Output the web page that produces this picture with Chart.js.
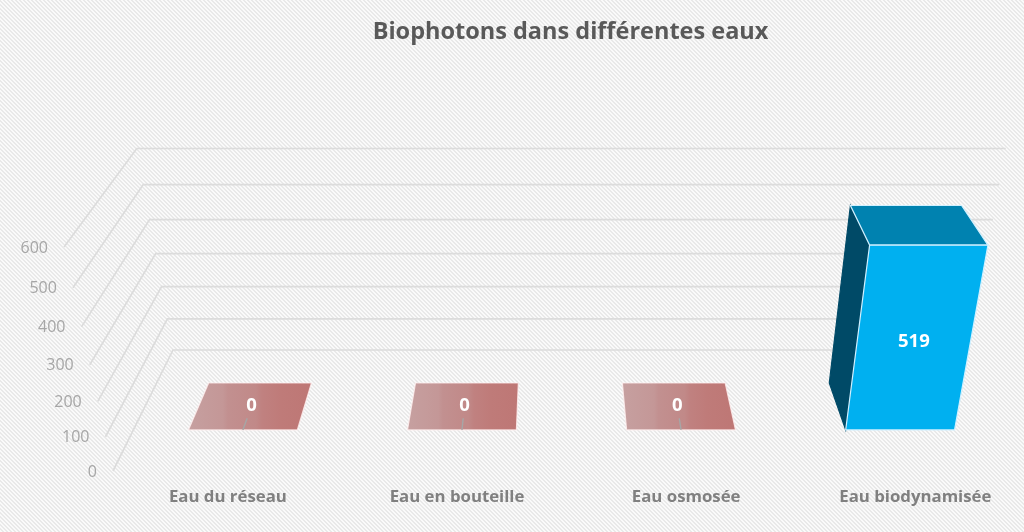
<!DOCTYPE html>
<html lang="fr">
<head>
<meta charset="utf-8">
<title>Biophotons dans différentes eaux</title>
<script src="https://cdn.jsdelivr.net/npm/chart.js@4"></script>
<style>
    html, body {
        margin: 0;
        padding: 0;
        width: 1024px;
        height: 532px;
        overflow: hidden;
    }
    body {
        background-color: #f4f4f4;
        background-image: linear-gradient(45deg, #fafafa 25%, #e9e9e9 25%, #e9e9e9 50%, #fafafa 50%, #fafafa 75%, #e9e9e9 75%);
        background-size: 4px 4px;
    }
    .chart-box {
        position: relative;
        width: 1024px;
        height: 532px;
    }
</style>
</head>
<body>
<div class="chart-box"><canvas id="water-chart"></canvas></div>
<script>
const categories = ['Eau du réseau', 'Eau en bouteille', 'Eau osmosée', 'Eau biodynamisée'];
const photons = [0, 0, 0, 519];
const yTicks = [0, 100, 200, 300, 400, 500, 600];

const FONT = '"Open Sans", sans-serif';

// vanishing points and foreshortening
const VP_UP = { x: 570, y: 2560, k: -0.0968 };
const VP_BACK = { x: 551, y: -413, k: 0.1586 };
const FLOOR_FRONT = { left: 113, right: 1032, y: 471 };

const BAR_FRONT = 0.307;
const BAR_BACK = 0.697;
const WALL_END = 1.004;

// u: 0-1 across, v: 0-1 up, d: 0 front floor edge, 1 back wall
function project(u, v, d) {
    const w = 1 + VP_UP.k * v + VP_BACK.k * d;
    const x0 = FLOOR_FRONT.left + (FLOOR_FRONT.right - FLOOR_FRONT.left) * u;
    return {
        x: (x0 + VP_UP.x * VP_UP.k * v + VP_BACK.x * VP_BACK.k * d) / w,
        y: (FLOOR_FRONT.y + VP_UP.y * VP_UP.k * v + VP_BACK.y * VP_BACK.k * d) / w
    };
}

function polygon(ctx, pts, fill, stroke) {
    ctx.beginPath();
    pts.forEach((p, i) => i ? ctx.lineTo(p.x, p.y) : ctx.moveTo(p.x, p.y));
    ctx.closePath();
    ctx.fillStyle = fill;
    ctx.fill();
    ctx.strokeStyle = stroke;
    ctx.lineWidth = 1.2;
    ctx.stroke();
}

function emptyBarFill(ctx, x1, x2) {
    const g = ctx.createLinearGradient(x1, 0, x2, 0);
    g.addColorStop(0, '#c6a0a0');
    g.addColorStop(0.28, '#c49797');
    g.addColorStop(0.32, '#c29090');
    g.addColorStop(0.55, '#c18988');
    g.addColorStop(0.6, '#c08180');
    g.addColorStop(0.75, '#bf7b79');
    g.addColorStop(1, '#be7775');
    return g;
}

const wallsAndBars = {
    id: 'wallsAndBars',
    afterDatasetsDraw(chart) {
        const { ctx, chartArea: area, scales } = chart;
        const uOf = px => (px - area.left) / (area.right - area.left);
        const vOf = value => (area.bottom - scales.y.getPixelForValue(value)) / (area.bottom - area.top);

        ctx.save();

        // side wall and back wall grid
        ctx.strokeStyle = '#dcdcdc';
        ctx.lineWidth = 1.7;
        yTicks.forEach(tick => {
            const v = vOf(tick);
            const a = project(0, v, 0), b = project(0, v, 1), c = project(WALL_END, v, 1);
            ctx.beginPath();
            ctx.moveTo(a.x, a.y);
            ctx.lineTo(b.x, b.y);
            ctx.lineTo(c.x, c.y);
            ctx.stroke();
        });

        // value axis labels
        ctx.font = '16px ' + FONT;
        ctx.fillStyle = '#a6a6a6';
        ctx.textAlign = 'right';
        ctx.textBaseline = 'middle';
        yTicks.forEach(tick => {
            const p = project(0, vOf(tick), 0);
            ctx.fillText(String(tick), p.x - 16, p.y + 1);
        });

        // category labels
        ctx.font = 'bold 16.8px ' + FONT;
        ctx.fillStyle = '#808080';
        ctx.textAlign = 'center';
        categories.forEach((label, i) => {
            const p = project(uOf(scales.x.getPixelForValue(i)), 0, 0);
            ctx.fillText(label, p.x - i * 0.6, p.y + 26);
        });

        // bars
        chart.getDatasetMeta(0).data.forEach((bar, i) => {
            const value = photons[i];
            const u0 = uOf(bar.x - bar.width / 2);
            const u1 = uOf(bar.x + bar.width / 2);
            const uMid = uOf(bar.x);
            const v = vOf(value);
            const fl = project(u0, 0, BAR_FRONT), fr = project(u1, 0, BAR_FRONT);
            const tl = project(u0, v, BAR_FRONT), tr = project(u1, v, BAR_FRONT);
            const bl = project(u0, v, BAR_BACK), br = project(u1, v, BAR_BACK);
            const bb = project(u0, 0, BAR_BACK);

            if (value === 0) {
                polygon(ctx, [tl, tr, br, bl], emptyBarFill(ctx, Math.min(tl.x, bl.x), Math.max(tr.x, br.x)), 'rgba(255,240,240,0.8)');
                const s = project(uMid, 0, BAR_FRONT), e = project(uMid, 0, 0.4);
                ctx.strokeStyle = '#a6a6a6';
                ctx.lineWidth = 1.4;
                ctx.beginPath();
                ctx.moveTo(s.x, s.y);
                ctx.lineTo(e.x, e.y);
                ctx.stroke();
            } else {
                polygon(ctx, [bb, bl, tl, fl], '#004a67', '#004a67');
                polygon(ctx, [tl, tr, br, bl], '#0082b0', '#d0f0ff');
                polygon(ctx, [fl, fr, tr, tl], '#00b0f0', '#d0f0ff');
            }

            const lab = value === 0 ? project(uMid, 0, 0.5) : project(uMid, v / 2, BAR_FRONT);
            ctx.font = 'bold 18.5px ' + FONT;
            ctx.fillStyle = '#ffffff';
            ctx.textAlign = 'center';
            ctx.textBaseline = 'middle';
            ctx.fillText(String(value), lab.x, lab.y);
        });

        ctx.restore();
    }
};

new Chart(document.getElementById('water-chart'), {
    type: 'bar',
    data: {
        labels: categories,
        datasets: [{
            label: 'Biophotons',
            data: photons,
            backgroundColor: 'transparent',
            barPercentage: 0.497,
            categoryPercentage: 1
        }]
    },
    options: {
        responsive: true,
        maintainAspectRatio: false,
        animation: false,
        layout: {
            padding: { left: 173, right: 56, top: 14, bottom: 182 }
        },
        plugins: {
            title: {
                display: true,
                text: 'Biophotons dans différentes eaux',
                color: '#595959',
                font: { family: FONT, size: 23.5, weight: 'bold' },
                padding: { top: 4, bottom: 100.8 }
            },
            legend: { display: false },
            tooltip: { enabled: false }
        },
        scales: {
            x: { display: false },
            y: { display: false, min: 0, max: 600, ticks: { stepSize: 100 } }
        }
    },
    plugins: [wallsAndBars]
});
</script>
</body>
</html>
